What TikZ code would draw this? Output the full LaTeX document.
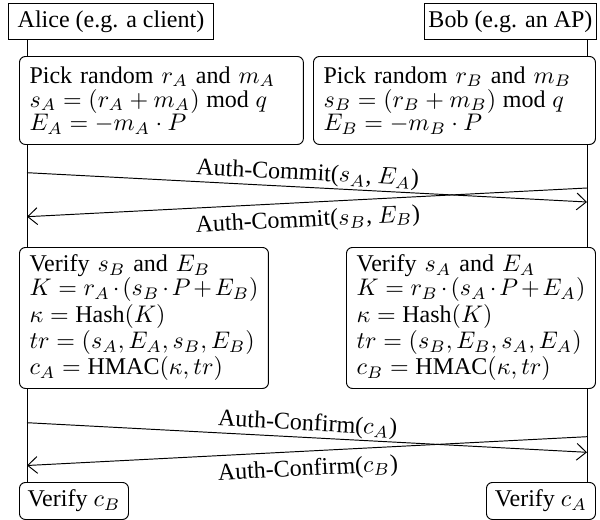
\documentclass[tikz,border=0pt]{standalone}
\usepackage{fontspec}
\setmainfont{Liberation Serif}
\usetikzlibrary{arrows.meta,backgrounds}
% fixed line pitch inside the boxes
\setlength{\lineskiplimit}{-10pt}

\begin{document}
\begin{tikzpicture}[x=0.41667pt,y=-0.41667pt,
  txt/.style={font=\fontsize{10}{9.9}\selectfont},
  party/.style={draw,fill=white,txt,anchor=north west,inner xsep=0pt,inner ysep=0pt,minimum height=15pt},
  calc/.style={draw,fill=white,rounded corners=2.5pt,txt,anchor=north west,
    inner xsep=4.2pt,inner ysep=0pt,align=left},
  check/.style={draw,fill=white,rounded corners=2.5pt,txt,anchor=north west,
    inner xsep=0pt,inner ysep=0pt,minimum width=45.42pt,minimum height=15.42pt},
  lifeline/.style={line width=0.4pt},
  msg/.style={line width=0.4pt,-{Straight Barb[length=4pt,width=7pt]}},
  lblup/.style={txt,sloped,midway,above,inner sep=0.6pt},
  lbldown/.style={txt,sloped,midway,below,inner sep=3pt},
]
\useasboundingbox (0,0) rectangle (600,520);

% parties
\node[party,minimum width=85.42pt] (alice) at (8,3) {Alice (e.g. a client)};
\node[party,minimum width=71.67pt] (bob) at (424,3) {Bob (e.g. an AP)};

% commit computations
\node[calc,text width=109.9pt,minimum height=36.67pt] (pickA) at (19,56)
  {Pick random $r_A$ and $m_A$\\
   $s_A = (r_A + m_A) \bmod q$\\
   $E_A = -m_A \cdot P$};
\node[calc,text width=109.1pt,minimum height=36.67pt] (pickB) at (313,56)
  {Pick random $r_B$ and $m_B$\\
   $s_B = (r_B + m_B) \bmod q$\\
   $E_B = -m_B \cdot P$};

% confirm computations
\node[calc,text width=95.35pt,minimum height=58.75pt] (verA) at (19,247)
  {Verify $s_B$ and $E_B$\\
   $K = r_A \cdot (s_B \cdot P + E_B)$\\
   $\kappa = \mathrm{Hash}(K)$\\
   $tr = (s_A, E_A, s_B, E_B)$\\
   $c_A = \mathrm{HMAC}(\kappa, tr)$};
\node[calc,text width=95.35pt,minimum height=58.75pt] (verB) at (346,247)
  {Verify $s_A$ and $E_A$\\
   $K = r_B \cdot (s_A \cdot P + E_A)$\\
   $\kappa = \mathrm{Hash}(K)$\\
   $tr = (s_B, E_B, s_A, E_A)$\\
   $c_B = \mathrm{HMAC}(\kappa, tr)$};

% final checks
\node[check] (vcB) at (19,482) {Verify $c_B$};
\node[check] (vcA) at (486,482) {Verify $c_A$};

% lifeline end points
\coordinate (aTop) at (27,39);
\coordinate (aBot) at (27,482);
\coordinate (bTop) at (587,39);
\coordinate (bBot) at (587,482);

% message end points
\coordinate (c1s) at (27,172.7);
\coordinate (c1e) at (587,202);
\coordinate (c2s) at (587,188);
\coordinate (c2e) at (27,216.7);
\coordinate (f1s) at (27,422.7);
\coordinate (f1e) at (587,452.3);
\coordinate (f2s) at (587,436.7);
\coordinate (f2e) at (27,465.5);

\begin{pgfonlayer}{background}
  \draw[lifeline] (aTop) -- (aBot);
  \draw[lifeline] (bTop) -- (bBot);
\end{pgfonlayer}

\draw[msg] (c1s) -- node[lblup] {Auth-Commit($s_A$, $E_A$)} (c1e);
\draw[msg] (c2s) -- node[lbldown] {Auth-Commit($s_B$, $E_B$)} (c2e);
\draw[msg] (f1s) -- node[lblup] {Auth-Confirm($c_A$)} (f1e);
\draw[msg] (f2s) -- node[lbldown] {Auth-Confirm($c_B$)} (f2e);
\end{tikzpicture}
\end{document}
